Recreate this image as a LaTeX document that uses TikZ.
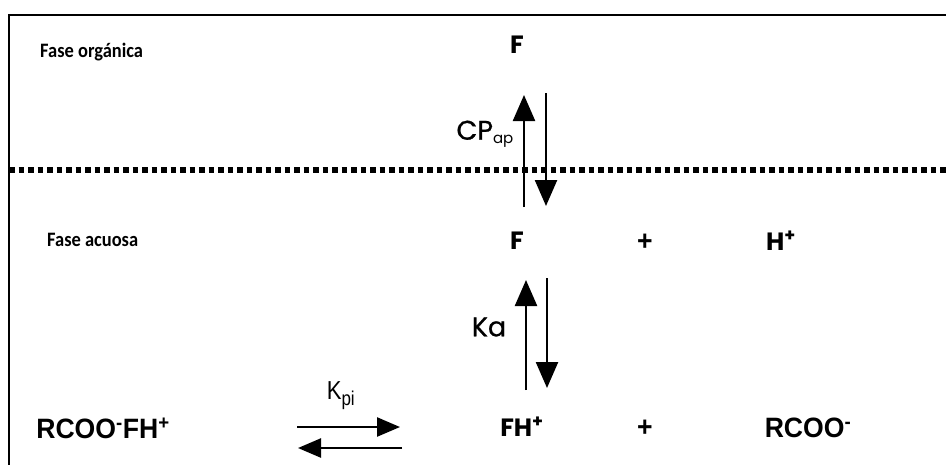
\documentclass[tikz,border=0pt]{standalone}
\usepackage{fontspec}
\usetikzlibrary{arrows.meta,calc}
\newfontfamily\calibri[FakeStretch=0.9]{Carlito}
\newfontfamily\gothic{Poppins}
\newfontfamily\gothicm[FakeBold=0.8]{Poppins}
\newfontfamily\arialn[FakeStretch=0.95]{Liberation Sans}
\newfontfamily\arialc[FakeStretch=0.85]{Liberation Sans}
\begin{document}
\begin{tikzpicture}[x=1pt,y=-1pt,
  phase/.style={font=\calibri\bfseries\fontsize{20.5}{23}\selectfont, anchor=west, inner sep=0pt},
  species/.style={font=\gothic\bfseries\fontsize{25}{28}\selectfont, inner sep=0pt},
  salt/.style={font=\arialn\bfseries\fontsize{28}{30}\selectfont, inner sep=0pt},
  konst/.style={font=\gothicm\fontsize{27}{30}\selectfont, inner sep=0pt},
  vert/.style={line width=2.4pt, -{Triangle[width=22pt,length=26pt]}},
  horiz/.style={line width=2.4pt, -{Triangle[width=19pt,length=23pt]}},
  frame/.style={line width=2pt},
  interface/.style={line width=5.5pt, dash pattern=on 5.5pt off 4pt}
]
\useasboundingbox (0,0) rectangle (946,464);
\clip (0,0) rectangle (946,464);
\fill[white] (0,0) rectangle (946,464);

% outer frame (runs past the page on the right and bottom)
\draw[frame] (9,15) rectangle (980,500);

% organic / aqueous interface
\coordinate (ifL) at (9,170);
\coordinate (ifR) at (950,170);
\draw[interface] (ifL) -- (ifR);

% phase labels
\node[phase] (lorg) at (40,52) {Fase orgánica};
\node[phase] (laq) at (47,240) {Fase acuosa};

% species
\node[species] (forg) at (517,45) {F};
\node[species] (faq) at (517,241) {F};
\node[salt] (plus1) at (645,242) {+};
\node[species] (hplus) at (781,241) {H\textsuperscript{+}};
\node[species] (fh) at (522,427) {FH\textsuperscript{+}};
\node[salt] (plus2) at (645,428) {+};
\node[salt] (rcoo) at (808,428) {RCOO\textsuperscript{-}};
\node[salt] (cplx) at (103,428) {RCOO\textsuperscript{-}FH\textsuperscript{+}};

% constants
\node[konst, anchor=east] (cp) at (514,134) {CP\textsubscript{\gothic\fontsize{15}{16}\selectfont ap}};
\node[konst] (ka) at (489,327) {Ka};
\node[font=\arialc\fontsize{26}{28}\selectfont, inner sep=0pt] (kpi) at (341,396) {K\textsubscript{\fontsize{20}{22}\selectfont pi}};

% partition equilibrium
\coordinate (cpUpA) at (524,207);
\coordinate (cpUpB) at (524,95);
\coordinate (cpDnA) at (546,93);
\coordinate (cpDnB) at (546,206);
\draw[vert] (cpUpA) -- (cpUpB);
\draw[vert] (cpDnA) -- (cpDnB);

% acid dissociation
\coordinate (kaUpA) at (526,390);
\coordinate (kaUpB) at (526,280);
\coordinate (kaDnA) at (547,278);
\coordinate (kaDnB) at (547,388);
\draw[vert] (kaUpA) -- (kaUpB);
\draw[vert] (kaDnA) -- (kaDnB);

% ion pair equilibrium
\coordinate (kpFwA) at (297,427);
\coordinate (kpFwB) at (400,427);
\coordinate (kpBkA) at (402,448);
\coordinate (kpBkB) at (298,448);
\draw[horiz] (kpFwA) -- (kpFwB);
\draw[horiz] (kpBkA) -- (kpBkB);
\end{tikzpicture}
\end{document}
